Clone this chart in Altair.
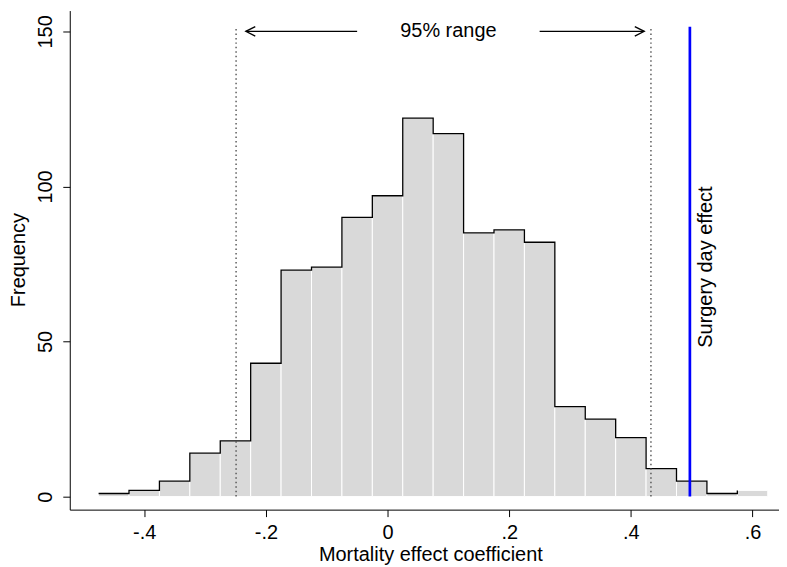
import altair as alt
import pandas as pd

# histogram bins (width .05) and frequencies
bin_left = [-0.475, -0.425, -0.375, -0.325, -0.275, -0.225, -0.175, -0.125,
            -0.075, -0.025, 0.025, 0.075, 0.125, 0.175, 0.225, 0.275,
            0.325, 0.375, 0.425, 0.475, 0.525, 0.575]
bin_right = [-0.425, -0.375, -0.325, -0.275, -0.225, -0.175, -0.125, -0.075,
             -0.025, 0.025, 0.075, 0.125, 0.175, 0.225, 0.275, 0.325,
             0.375, 0.425, 0.475, 0.525, 0.575, 0.625]
counts = [1, 2, 5, 14, 18, 43, 73, 74, 90, 97, 122, 117,
          85, 86, 82, 29, 25, 19, 9, 5, 1, 2]

# reference lines
range_bounds = [-0.249, 0.433]
surgery_effect = 0.497
line_top = 151.5

# "95% range" annotation
arrow_from = [-0.05, 0.25]
arrow_to = [-0.233, 0.422]
arrow_angle = [180, 0]
arrow_y = 150
range_label = "95% range"
range_label_x = 0.1

surgery_label = "Surgery day effect"
surgery_label_x = 0.523
surgery_label_y = 74

x_ticks = [-0.4, -0.2, 0, 0.2, 0.4, 0.6]
y_ticks = [0, 50, 100, 150]

FONT = "Liberation Sans"
X_TITLE = 'Mortality effect coefficient'
Y_TITLE = 'Frequency'

hist = pd.DataFrame({'left': bin_left, 'right': bin_right, 'count': counts})
bounds = pd.DataFrame({'x': range_bounds, 'bottom': 0, 'top': line_top})
surgery = pd.DataFrame({'x': [surgery_effect], 'bottom': 0, 'top': line_top})
arrows = pd.DataFrame({'start': arrow_from, 'tip': arrow_to,
                       'angle': arrow_angle, 'y': arrow_y})
labels = pd.DataFrame({'x': [range_label_x], 'y': [arrow_y], 'text': [range_label]})
vlabel = pd.DataFrame({'x': [surgery_label_x], 'y': [surgery_label_y],
                       'text': [surgery_label]})

x_scale = alt.Scale(domain=[-0.5224, 0.6435], nice=False, zero=False)
y_scale = alt.Scale(domain=[-4.2, 156.7], nice=False, zero=False)

# Stata style labels: -.4  -.2  0  .2 ...
x_axis = alt.Axis(values=x_ticks, grid=False,
                  labelExpr="datum.value == 0 ? '0' : replace(toString(datum.value), '0.', '.')",
                  tickSize=7, tickColor='black', domainColor='black',
                  labelFont=FONT, labelFontSize=20, labelColor='black',
                  labelBaseline='alphabetic', labelPadding=22, labelFlush=False,
                  labelOverlap=False,
                  titleFont=FONT, titleFontSize=20, titleFontWeight='normal',
                  titleColor='black', titleX=362, titleY=51,
                  titleBaseline='alphabetic', titleAlign='center')

y_axis = alt.Axis(values=y_ticks, grid=False,
                  tickSize=7, tickColor='black', domainColor='black',
                  labelFont=FONT, labelFontSize=20, labelColor='black',
                  labelAngle=270, labelAlign='center', labelBaseline='alphabetic',
                  labelPadding=11, labelOverlap=False,
                  titleFont=FONT, titleFontSize=20, titleFontWeight='normal',
                  titleColor='black', titleAngle=270, titleX=-45, titleY=250,
                  titleBaseline='alphabetic', titleAlign='center')


def xenc(field):
    return alt.X(field, scale=x_scale, axis=x_axis, title=X_TITLE)


def yenc(field):
    return alt.Y(field, scale=y_scale, axis=y_axis, title=Y_TITLE)


bars = alt.Chart(hist).mark_bar(fill='#d9d9d9', stroke='white', strokeWidth=1).encode(
    x=xenc('left:Q'),
    x2='right:Q',
    y=yenc('count:Q'),
    y2=alt.datum(0)
)

outline = alt.Chart(hist).mark_line(color='black', strokeWidth=1.3,
                                    interpolate='step-after').encode(
    x=xenc('left:Q'),
    y=yenc('count:Q')
)

dotted = alt.Chart(bounds).mark_rule(color='#444444', strokeWidth=1.3,
                                     strokeDash=[1.5, 3]).encode(
    x=xenc('x:Q'),
    y=yenc('bottom:Q'),
    y2='top:Q'
)

blue = alt.Chart(surgery).mark_rule(color='#0000ff', strokeWidth=2.7).encode(
    x=xenc('x:Q'),
    y=yenc('bottom:Q'),
    y2='top:Q'
)

shafts = alt.Chart(arrows).mark_rule(color='black', strokeWidth=1.3).encode(
    x=xenc('start:Q'),
    x2='tip:Q',
    y=yenc('y:Q')
)

heads = alt.Chart(arrows).mark_point(shape='M-1,-0.5L0,0L-1,0.5', size=361,
                                     filled=False, color='black',
                                     strokeWidth=1.3, opacity=1).encode(
    x=xenc('tip:Q'),
    y=yenc('y:Q'),
    angle=alt.Angle('angle:Q', scale=None)
)

range_text = alt.Chart(labels).mark_text(font=FONT, fontSize=20, color='black',
                                         align='center', baseline='middle').encode(
    x=xenc('x:Q'),
    y=yenc('y:Q'),
    text='text:N'
)

surgery_text = alt.Chart(vlabel).mark_text(font=FONT, fontSize=20, color='black',
                                           align='center', baseline='middle',
                                           angle=270).encode(
    x=xenc('x:Q'),
    y=yenc('y:Q'),
    text='text:N'
)

chart = alt.layer(bars, outline, dotted, blue, shafts, heads,
                  range_text, surgery_text).properties(
    width=712,
    height=501,
    padding={'left': 62, 'top': 1.5, 'right': 0, 'bottom': 56},
    autosize=alt.AutoSizeParams(type='none'),
    background='white'
).configure_view(stroke=None)

chart.save("out.html", embed_options={"renderer": "svg", "actions": False})
